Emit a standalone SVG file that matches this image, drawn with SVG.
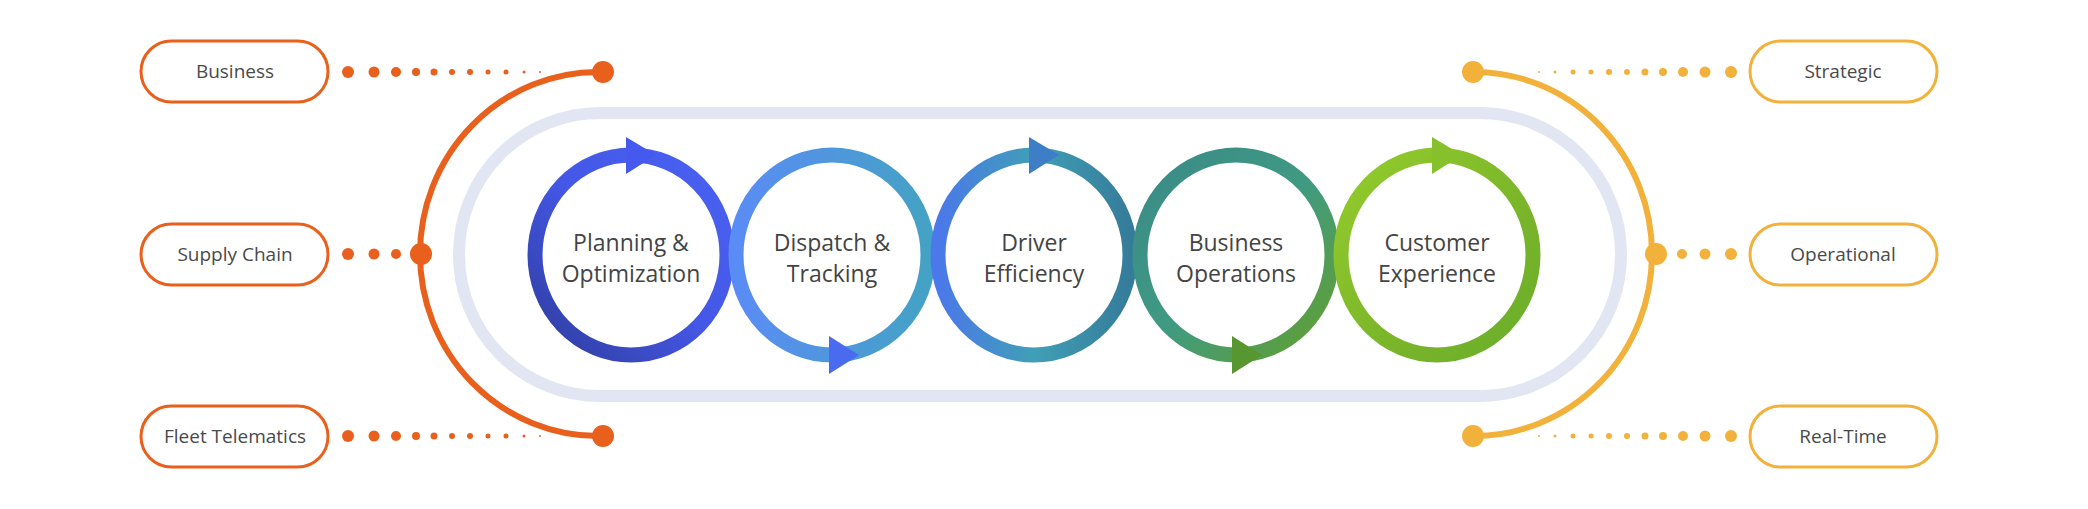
<svg xmlns="http://www.w3.org/2000/svg" width="2088" height="509" viewBox="0 0 2088 509">
<style>
.pl{fill:#fff;stroke-width:3}
.po{stroke:#E8601C}.py{stroke:#F2B13B}
.fo{fill:#E8601C}.fy{fill:#F2B13B}
.pt{font-family:"Open Sans",sans-serif;font-size:19px;fill:#4a4a4a;text-anchor:middle}
.rt{font-family:"Open Sans",sans-serif;font-size:23px;fill:#444;text-anchor:middle}
.ring{fill:none;stroke-width:15}
</style>
<defs>
<linearGradient id="g1" x1="0" y1="1" x2="1" y2="0"><stop offset="0" stop-color="#2F3C9C"/><stop offset="0.5" stop-color="#4457E6"/><stop offset="1" stop-color="#4A62F2"/></linearGradient>
<linearGradient id="g2" x1="0" y1="0" x2="1" y2="0"><stop offset="0" stop-color="#5A8CF5"/><stop offset="1" stop-color="#44A2C4"/></linearGradient>
<linearGradient id="g3" x1="0" y1="0" x2="1" y2="0"><stop offset="0" stop-color="#4B78EA"/><stop offset="0.5" stop-color="#409FB6"/><stop offset="1" stop-color="#357C9A"/></linearGradient>
<linearGradient id="g4" x1="0" y1="0" x2="1" y2="1"><stop offset="0" stop-color="#3A8A88"/><stop offset="0.5" stop-color="#3F9A82"/><stop offset="1" stop-color="#64A02C"/></linearGradient>
<linearGradient id="g5" x1="0" y1="0" x2="1" y2="1"><stop offset="0" stop-color="#94CC2C"/><stop offset="0.6" stop-color="#7AB52A"/><stop offset="1" stop-color="#6AAE2A"/></linearGradient>
</defs>
<g id="frame"><rect x="459" y="113" width="1162" height="283" rx="141" fill="none" stroke="#E2E6F3" stroke-width="12"/></g>
<g id="connectors">
<path d="M598,72 A178,182 0 0 0 598,436" fill="none" stroke="#E8601C" stroke-width="6"/>
<path d="M1474,72 A178,182 0 0 1 1474,436" fill="none" stroke="#F2B13B" stroke-width="6"/>
<g class="fo">
<circle cx="603" cy="72" r="11"/><circle cx="421" cy="254" r="11"/><circle cx="603" cy="436" r="11"/>
<circle cx="348" cy="72" r="6"/><circle cx="374" cy="72" r="5.5"/><circle cx="396" cy="72" r="5"/><circle cx="416" cy="72" r="4"/><circle cx="434" cy="72" r="3.5"/><circle cx="452" cy="72" r="3"/><circle cx="470" cy="72" r="3"/><circle cx="488" cy="72" r="2.5"/><circle cx="506" cy="72" r="2.5"/><circle cx="524" cy="72" r="1.5"/><circle cx="540" cy="72" r="1"/>
<circle cx="348" cy="436" r="6"/><circle cx="374" cy="436" r="5.5"/><circle cx="396" cy="436" r="5"/><circle cx="416" cy="436" r="4"/><circle cx="434" cy="436" r="3.5"/><circle cx="452" cy="436" r="3"/><circle cx="470" cy="436" r="3"/><circle cx="488" cy="436" r="2.5"/><circle cx="506" cy="436" r="2.5"/><circle cx="524" cy="436" r="1.5"/><circle cx="540" cy="436" r="1"/>
<circle cx="348" cy="254" r="6"/><circle cx="374" cy="254" r="5.5"/><circle cx="396" cy="254" r="5"/>
</g>
<g class="fy">
<circle cx="1473" cy="72" r="11"/><circle cx="1656" cy="254" r="11"/><circle cx="1473" cy="436" r="11"/>
<circle cx="1731" cy="72" r="6"/><circle cx="1705" cy="72" r="5.5"/><circle cx="1683" cy="72" r="5"/><circle cx="1663" cy="72" r="4"/><circle cx="1645" cy="72" r="3.5"/><circle cx="1627" cy="72" r="3"/><circle cx="1609" cy="72" r="3"/><circle cx="1591" cy="72" r="2.5"/><circle cx="1573" cy="72" r="2.5"/><circle cx="1555" cy="72" r="1.5"/><circle cx="1539" cy="72" r="1"/>
<circle cx="1731" cy="436" r="6"/><circle cx="1705" cy="436" r="5.5"/><circle cx="1683" cy="436" r="5"/><circle cx="1663" cy="436" r="4"/><circle cx="1645" cy="436" r="3.5"/><circle cx="1627" cy="436" r="3"/><circle cx="1609" cy="436" r="3"/><circle cx="1591" cy="436" r="2.5"/><circle cx="1573" cy="436" r="2.5"/><circle cx="1555" cy="436" r="1.5"/><circle cx="1539" cy="436" r="1"/>
<circle cx="1731" cy="254" r="6"/><circle cx="1705" cy="254" r="5.5"/><circle cx="1682" cy="254" r="5"/>
</g>
</g>
<g id="n-business"><rect class="pl po" x="141" y="41" width="187" height="61" rx="30.5"/><text class="pt" x="235" y="78">Business</text></g>
<g id="n-supply"><rect class="pl po" x="141" y="224" width="187" height="61" rx="30.5"/><text class="pt" x="235" y="261">Supply Chain</text></g>
<g id="n-fleet"><rect class="pl po" x="141" y="406" width="187" height="61" rx="30.5"/><text class="pt" x="235" y="443">Fleet Telematics</text></g>
<g id="n-strategic"><rect class="pl py" x="1750" y="41" width="187" height="61" rx="30.5"/><text class="pt" x="1843" y="78">Strategic</text></g>
<g id="n-operational"><rect class="pl py" x="1750" y="224" width="187" height="61" rx="30.5"/><text class="pt" x="1843" y="261">Operational</text></g>
<g id="n-realtime"><rect class="pl py" x="1750" y="406" width="187" height="61" rx="30.5"/><text class="pt" x="1843" y="443">Real-Time</text></g>
<g id="c-planning"><ellipse class="ring" cx="631" cy="255" rx="96" ry="100" stroke="url(#g1)"/><polygon points="626,137 656,155 626,174" fill="#4559EE"/><text class="rt" x="631" y="251">Planning &amp;</text><text class="rt" x="631" y="282">Optimization</text></g>
<g id="c-dispatch"><ellipse class="ring" cx="832" cy="255" rx="96" ry="100" stroke="url(#g2)"/><polygon points="829,336 859,355 829,374" fill="#4A6AF0"/><text class="rt" x="832" y="251">Dispatch &amp;</text><text class="rt" x="832" y="282">Tracking</text></g>
<g id="c-driver"><ellipse class="ring" cx="1034" cy="255" rx="96" ry="100" stroke="url(#g3)"/><polygon points="1029,137 1059,155 1029,174" fill="#3E7EC6"/><text class="rt" x="1034" y="251">Driver</text><text class="rt" x="1034" y="282">Efficiency</text></g>
<g id="c-business"><ellipse class="ring" cx="1236" cy="255" rx="96" ry="100" stroke="url(#g4)"/><polygon points="1232,336 1262,355 1232,374" fill="#58962F"/><text class="rt" x="1236" y="251">Business</text><text class="rt" x="1236" y="282">Operations</text></g>
<g id="c-customer"><ellipse class="ring" cx="1437" cy="255" rx="96" ry="100" stroke="url(#g5)"/><polygon points="1432,137 1462,155 1432,174" fill="#86C02A"/><text class="rt" x="1437" y="251">Customer</text><text class="rt" x="1437" y="282">Experience</text></g>
</svg>
